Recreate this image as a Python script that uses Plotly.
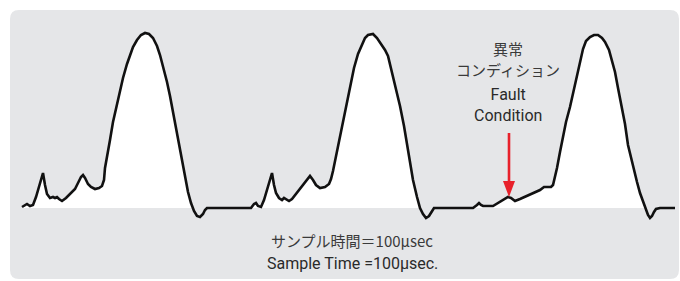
import numpy as np
import plotly.graph_objects as go

# Sample index (pixel-based time axis) and signal amplitude above baseline
t = [22, 25, 27, 30, 33, 36, 40, 43, 45, 47, 50, 53, 55, 57, 59, 62, 66, 70, 75, 78, 81, 83, 85, 88, 91, 95, 99, 102,
     104, 105, 107, 110, 113, 117, 120, 123, 127, 130, 133, 137, 141, 145, 149, 153, 157, 160, 164, 167, 170, 173,
     176, 179, 182, 185, 188, 191, 194, 197, 200, 203, 205, 207, 220, 251, 254, 256, 258, 261, 264, 267, 270, 272,
     274, 276, 279, 282, 284, 286, 289, 292, 296, 300, 304, 308, 310, 313, 316, 320, 325, 329, 331, 333, 336, 340,
     343, 347, 351, 354, 358, 362, 365, 368, 373, 377, 381, 385, 388, 392, 396, 400, 404, 407, 410, 413, 417, 420,
     423, 426, 429, 432, 434, 440, 473, 477, 479, 481, 483, 493, 498, 503, 508, 511, 515, 520, 527, 534, 540, 544,
     547, 551, 553, 555, 557, 560, 563, 566, 570, 573, 577, 580, 583, 586, 590, 594, 598, 602, 605, 609, 612, 615,
     618, 621, 625, 628, 631, 634, 637, 640, 643, 645, 648, 650, 652, 654, 656, 660, 675]
ypix = [207, 205, 204, 206, 205, 197, 183, 173, 185, 194, 198, 197, 198, 197, 199, 201, 198, 194, 189, 183, 177, 175,
        178, 184, 187, 189, 188, 186, 180, 168, 155, 140, 122, 103, 89, 78, 64, 55, 47, 40, 35, 33, 34, 38, 46, 55, 69,
        82, 96, 112, 127, 143, 158, 176, 192, 203, 211, 216, 217, 214, 210, 208, 208, 208, 204, 203, 206, 207, 200,
        190, 180, 173, 185, 193, 198, 200, 198, 199, 201, 199, 194, 189, 184, 178, 176, 180, 185, 188, 187, 184, 179,
        171, 156, 138, 124, 103, 83, 68, 54, 45, 38, 35, 34, 38, 44, 50, 56, 72, 89, 106, 126, 145, 163, 180, 197, 208,
        214, 218, 216, 211, 208, 208, 208, 205, 203, 205, 206, 206, 203, 200, 197, 198, 201, 199, 196, 193, 190, 187,
        187, 187, 185, 177, 168, 152, 136, 122, 107, 93, 76, 62, 49, 41, 37, 35, 35, 38, 42, 50, 60, 72, 88, 104, 124,
        145, 158, 170, 182, 193, 202, 208, 215, 218, 216, 212, 209, 208, 208]
amp = [208 - v for v in ypix]

jp_label_top = ["異常", "コンディション"]
en_label_top = ["Fault", "Condition"]
jp_caption = "サンプル時間＝100μsec"
en_caption = "Sample Time =100μsec."

BASE = 208  # pixel row of the baseline
def Y(p):
    return BASE - p

fig = go.Figure()

fill_y = np.clip(np.array(amp, dtype=float), 0, None)
fig.add_trace(go.Scatter(x=t, y=fill_y, mode="lines", line=dict(width=0, color="white"),
                         fill="tozeroy", fillcolor="white", hoverinfo="skip", showlegend=False))
fig.add_trace(go.Scatter(x=t, y=amp, mode="lines", line=dict(color="#111111", width=2.6),
                         hoverinfo="skip", showlegend=False))

# gray rounded panel
x0, x1, yt, yb, r = 10, 679, Y(10), Y(279), 9
path = (f"M {x0+r},{yt} L {x1-r},{yt} Q {x1},{yt} {x1},{yt-r} L {x1},{yb+r} Q {x1},{yb} {x1-r},{yb} "
        f"L {x0+r},{yb} Q {x0},{yb} {x0},{yb+r} L {x0},{yt-r} Q {x0},{yt} {x0+r},{yt} Z")
shapes = [dict(type="path", path=path, xref="x", yref="y", fillcolor="#e5e6e8",
               line=dict(width=0), layer="below")]
# red arrow
ax = 509
shapes.append(dict(type="line", x0=ax, x1=ax, y0=Y(133), y1=Y(184), xref="x", yref="y",
                   line=dict(color="#e8212b", width=2.6)))
shapes.append(dict(type="path", path=f"M {ax-6},{Y(181)} L {ax+6},{Y(181)} L {ax},{Y(197)} Z",
                   xref="x", yref="y", fillcolor="#e8212b", line=dict(width=0)))

jp_font = dict(family="Noto Sans CJK JP", size=15, color="#3a3a3a")
en_font = dict(family="Roboto, Liberation Sans", size=16, color="#2a2a2a")
ann = [
    dict(x=508, y=Y(48), text=jp_label_top[0], font=jp_font),
    dict(x=508, y=Y(69), text=jp_label_top[1], font=jp_font),
    dict(x=508, y=Y(105), text="<br>".join(en_label_top), font=en_font),
    dict(x=352, y=Y(240), text=jp_caption, font=dict(family="Noto Sans CJK JP", size=15, color="#3a3a3a")),
    dict(x=352, y=Y(263), text=en_caption, font=dict(family="Roboto, Liberation Sans", size=16, color="#2a2a2a")),
]
for a in ann:
    a.update(xref="x", yref="y", showarrow=False, xanchor="center", yanchor="middle")

fig.update_layout(
    width=680, height=281, margin=dict(l=0, r=0, t=0, b=0),
    paper_bgcolor="white", plot_bgcolor="rgba(0,0,0,0)",
    xaxis=dict(range=[0, 680], visible=False, fixedrange=True),
    yaxis=dict(range=[Y(281), Y(0)], visible=False, fixedrange=True),
    shapes=shapes, annotations=ann, showlegend=False,
)
fig.write_html("out.html", config={"displayModeBar": False},
               post_script="document.body.style.margin='0';document.body.style.padding='0';")
